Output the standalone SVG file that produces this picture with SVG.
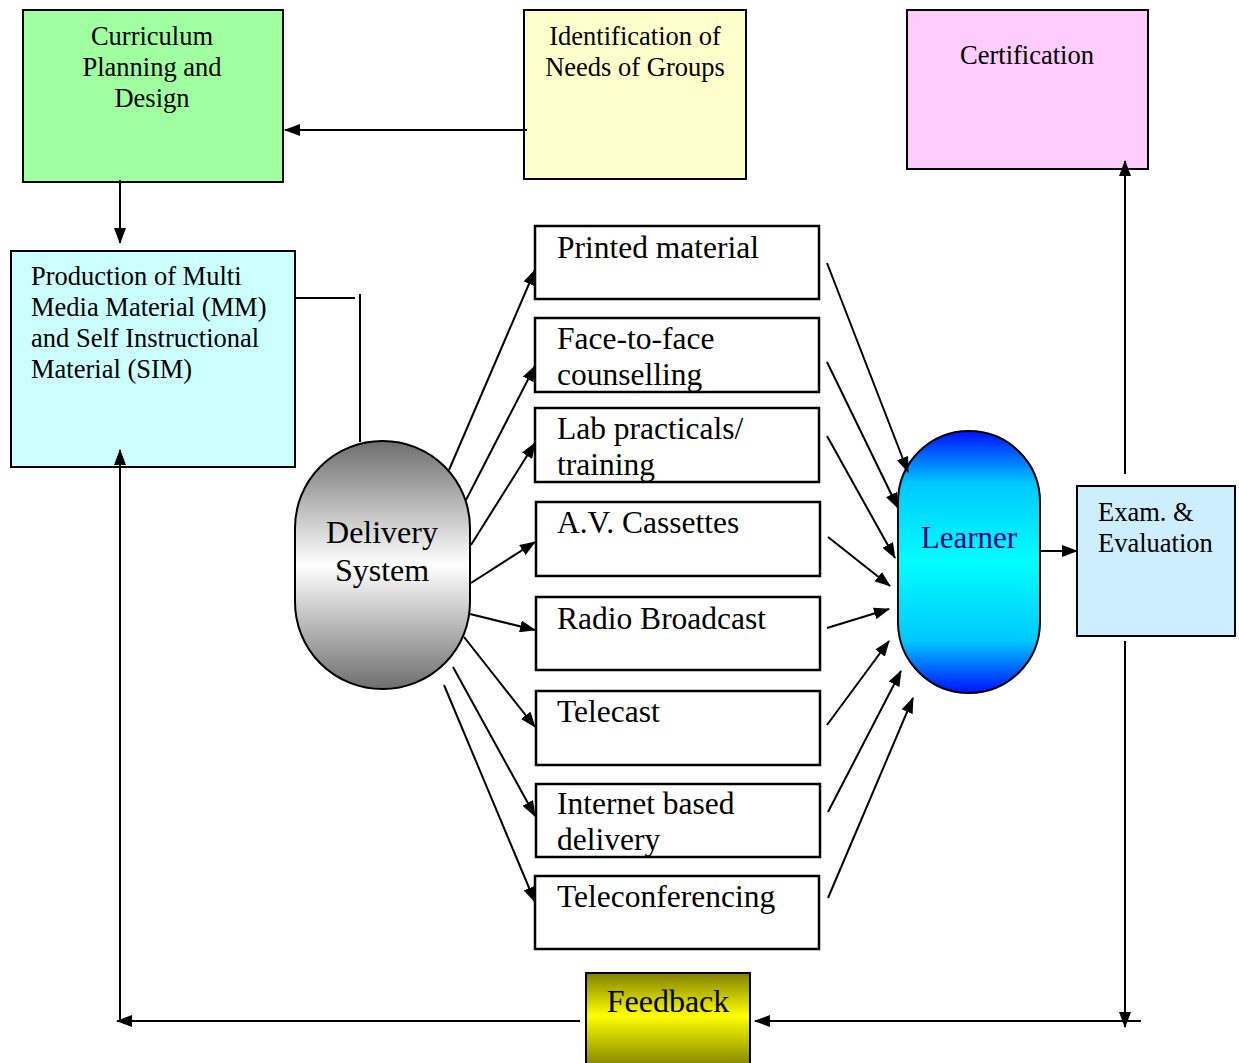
<svg xmlns="http://www.w3.org/2000/svg" width="1239" height="1063" viewBox="0 0 1239 1063">
<style>
.box{stroke:#000;stroke-width:2}
.wbox{fill:#fff;stroke:#000;stroke-width:2.5}
.t{font-family:"Liberation Serif","Times New Roman",serif;fill:#000}
.s24{font-size:26.5px}
.s28{font-size:31.5px}
.c{text-anchor:middle}
.ln{stroke:#000;stroke-width:2;fill:none}
.ar{stroke:#000;stroke-width:2;fill:none;marker-end:url(#ah)}
</style>
<defs>
<marker id="ah" markerWidth="16" markerHeight="12" refX="15" refY="6" orient="auto" markerUnits="userSpaceOnUse">
<path d="M0,0 L16,6 L0,12 Z" fill="#000"/>
</marker>
<linearGradient id="gray" x1="0" y1="0" x2="0" y2="1">
<stop offset="0" stop-color="#6e6e6e"/>
<stop offset="0.5" stop-color="#ffffff"/>
<stop offset="1" stop-color="#6e6e6e"/>
</linearGradient>
<linearGradient id="blue" x1="0" y1="0" x2="0" y2="1">
<stop offset="0" stop-color="#0010ff"/>
<stop offset="0.2" stop-color="#00c8ff"/>
<stop offset="0.5" stop-color="#00ffff"/>
<stop offset="0.8" stop-color="#00c8ff"/>
<stop offset="1" stop-color="#0010ff"/>
</linearGradient>
<linearGradient id="olive" x1="0" y1="0" x2="0" y2="1">
<stop offset="0" stop-color="#808000"/>
<stop offset="0.45" stop-color="#ffff00"/>
<stop offset="1" stop-color="#808000"/>
</linearGradient>
</defs>

<g id="curriculum">
<rect class="box" x="23" y="10" width="260" height="172" fill="#a0ff9e"/>
<text class="t s24 c" x="152" y="45">Curriculum</text>
<text class="t s24 c" x="152" y="76">Planning and</text>
<text class="t s24 c" x="152" y="107">Design</text>
</g>

<g id="identification">
<rect class="box" x="524" y="10" width="222" height="169" fill="#ffffcc"/>
<text class="t s24 c" x="635" y="45">Identification of</text>
<text class="t s24 c" x="635" y="76">Needs of Groups</text>
</g>

<g id="certification">
<rect class="box" x="907" y="10" width="241" height="159" fill="#ffccff"/>
<text class="t s24 c" x="1027" y="64">Certification</text>
</g>

<g id="production">
<rect class="box" x="11" y="251" width="284" height="216" fill="#ccffff"/>
<text class="t s24" x="31" y="285">Production of Multi</text>
<text class="t s24" x="31" y="316">Media Material (MM)</text>
<text class="t s24" x="31" y="347">and Self Instructional</text>
<text class="t s24" x="31" y="378">Material (SIM)</text>
</g>

<g id="delivery">
<rect class="box" x="295" y="441" width="175" height="248" rx="87" ry="87" fill="url(#gray)"/>
<text class="t c" x="382" y="543" style="font-size:32px">Delivery</text>
<text class="t c" x="382" y="581" style="font-size:32px">System</text>
</g>

<g id="printed">
<rect class="wbox" x="535" y="226" width="284" height="73"/>
<text class="t s28" x="557" y="258">Printed material</text>
</g>
<g id="face">
<rect class="wbox" x="535" y="318" width="284" height="74"/>
<text class="t s28" x="557" y="349">Face-to-face</text>
<text class="t s28" x="557" y="385">counselling</text>
</g>
<g id="lab">
<rect class="wbox" x="535" y="408" width="284" height="74"/>
<text class="t s28" x="557" y="439">Lab practicals/</text>
<text class="t s28" x="557" y="475">training</text>
</g>
<g id="av">
<rect class="wbox" x="536" y="502" width="284" height="74"/>
<text class="t s28" x="557" y="533">A.V. Cassettes</text>
</g>
<g id="radio">
<rect class="wbox" x="536" y="597" width="284" height="73"/>
<text class="t s28" x="557" y="629">Radio Broadcast</text>
</g>
<g id="telecast">
<rect class="wbox" x="536" y="691" width="284" height="74"/>
<text class="t s28" x="557" y="722">Telecast</text>
</g>
<g id="internet">
<rect class="wbox" x="536" y="784" width="284" height="73"/>
<text class="t s28" x="557" y="814">Internet based</text>
<text class="t s28" x="557" y="850">delivery</text>
</g>
<g id="teleconf">
<rect class="wbox" x="535" y="876" width="284" height="73"/>
<text class="t s28" x="557" y="907">Teleconferencing</text>
</g>

<g id="learner">
<rect class="box" x="898" y="431" width="142" height="262" rx="71" ry="71" fill="url(#blue)"/>
<text class="t c" x="969" y="548" style="font-size:31px;fill:#000080">Learner</text>
</g>

<g id="exam">
<rect class="box" x="1077" y="486" width="158" height="150" fill="#cceeff"/>
<text class="t s24" x="1098" y="521">Exam. &amp;</text>
<text class="t s24" x="1098" y="552">Evaluation</text>
</g>

<g id="feedback">
<rect class="box" x="586" y="973" width="164" height="95" fill="url(#olive)"/>
<text class="t c" x="668" y="1012" style="font-size:32px">Feedback</text>
</g>

<g id="connectors">
<line class="ar" x1="527" y1="130" x2="285" y2="130"/>
<line class="ar" x1="120" y1="180" x2="120" y2="243"/>
<line class="ln" x1="295" y1="298" x2="355" y2="298"/>
<line class="ln" x1="360" y1="294" x2="360" y2="442"/>
<line class="ar" x1="449" y1="470" x2="535" y2="270"/>
<line class="ar" x1="466" y1="500" x2="535" y2="366"/>
<line class="ar" x1="471" y1="545" x2="535" y2="443"/>
<line class="ar" x1="471" y1="583" x2="535" y2="542"/>
<line class="ar" x1="470" y1="614" x2="535" y2="630"/>
<line class="ar" x1="464" y1="637" x2="535" y2="727"/>
<line class="ar" x1="453" y1="667" x2="535" y2="816"/>
<line class="ar" x1="444" y1="685" x2="535" y2="902"/>
<line class="ar" x1="827" y1="263" x2="908" y2="472"/>
<line class="ar" x1="827" y1="362" x2="898" y2="508"/>
<line class="ar" x1="827" y1="436" x2="895" y2="558"/>
<line class="ar" x1="828" y1="537" x2="890" y2="586"/>
<line class="ar" x1="827" y1="628" x2="889" y2="609"/>
<line class="ar" x1="827" y1="725" x2="889" y2="641"/>
<line class="ar" x1="828" y1="812" x2="901" y2="671"/>
<line class="ar" x1="828" y1="898" x2="913" y2="698"/>
<line class="ar" x1="1040" y1="551" x2="1077" y2="551"/>
<line class="ar" x1="1125" y1="474" x2="1125" y2="161"/>
<line class="ar" x1="1125" y1="641" x2="1125" y2="1027"/>
<line class="ar" x1="1141" y1="1021" x2="755" y2="1021"/>
<line class="ar" x1="580" y1="1021" x2="117" y2="1021"/>
<line class="ar" x1="120" y1="1021" x2="120" y2="450"/>
</g>
</svg>
